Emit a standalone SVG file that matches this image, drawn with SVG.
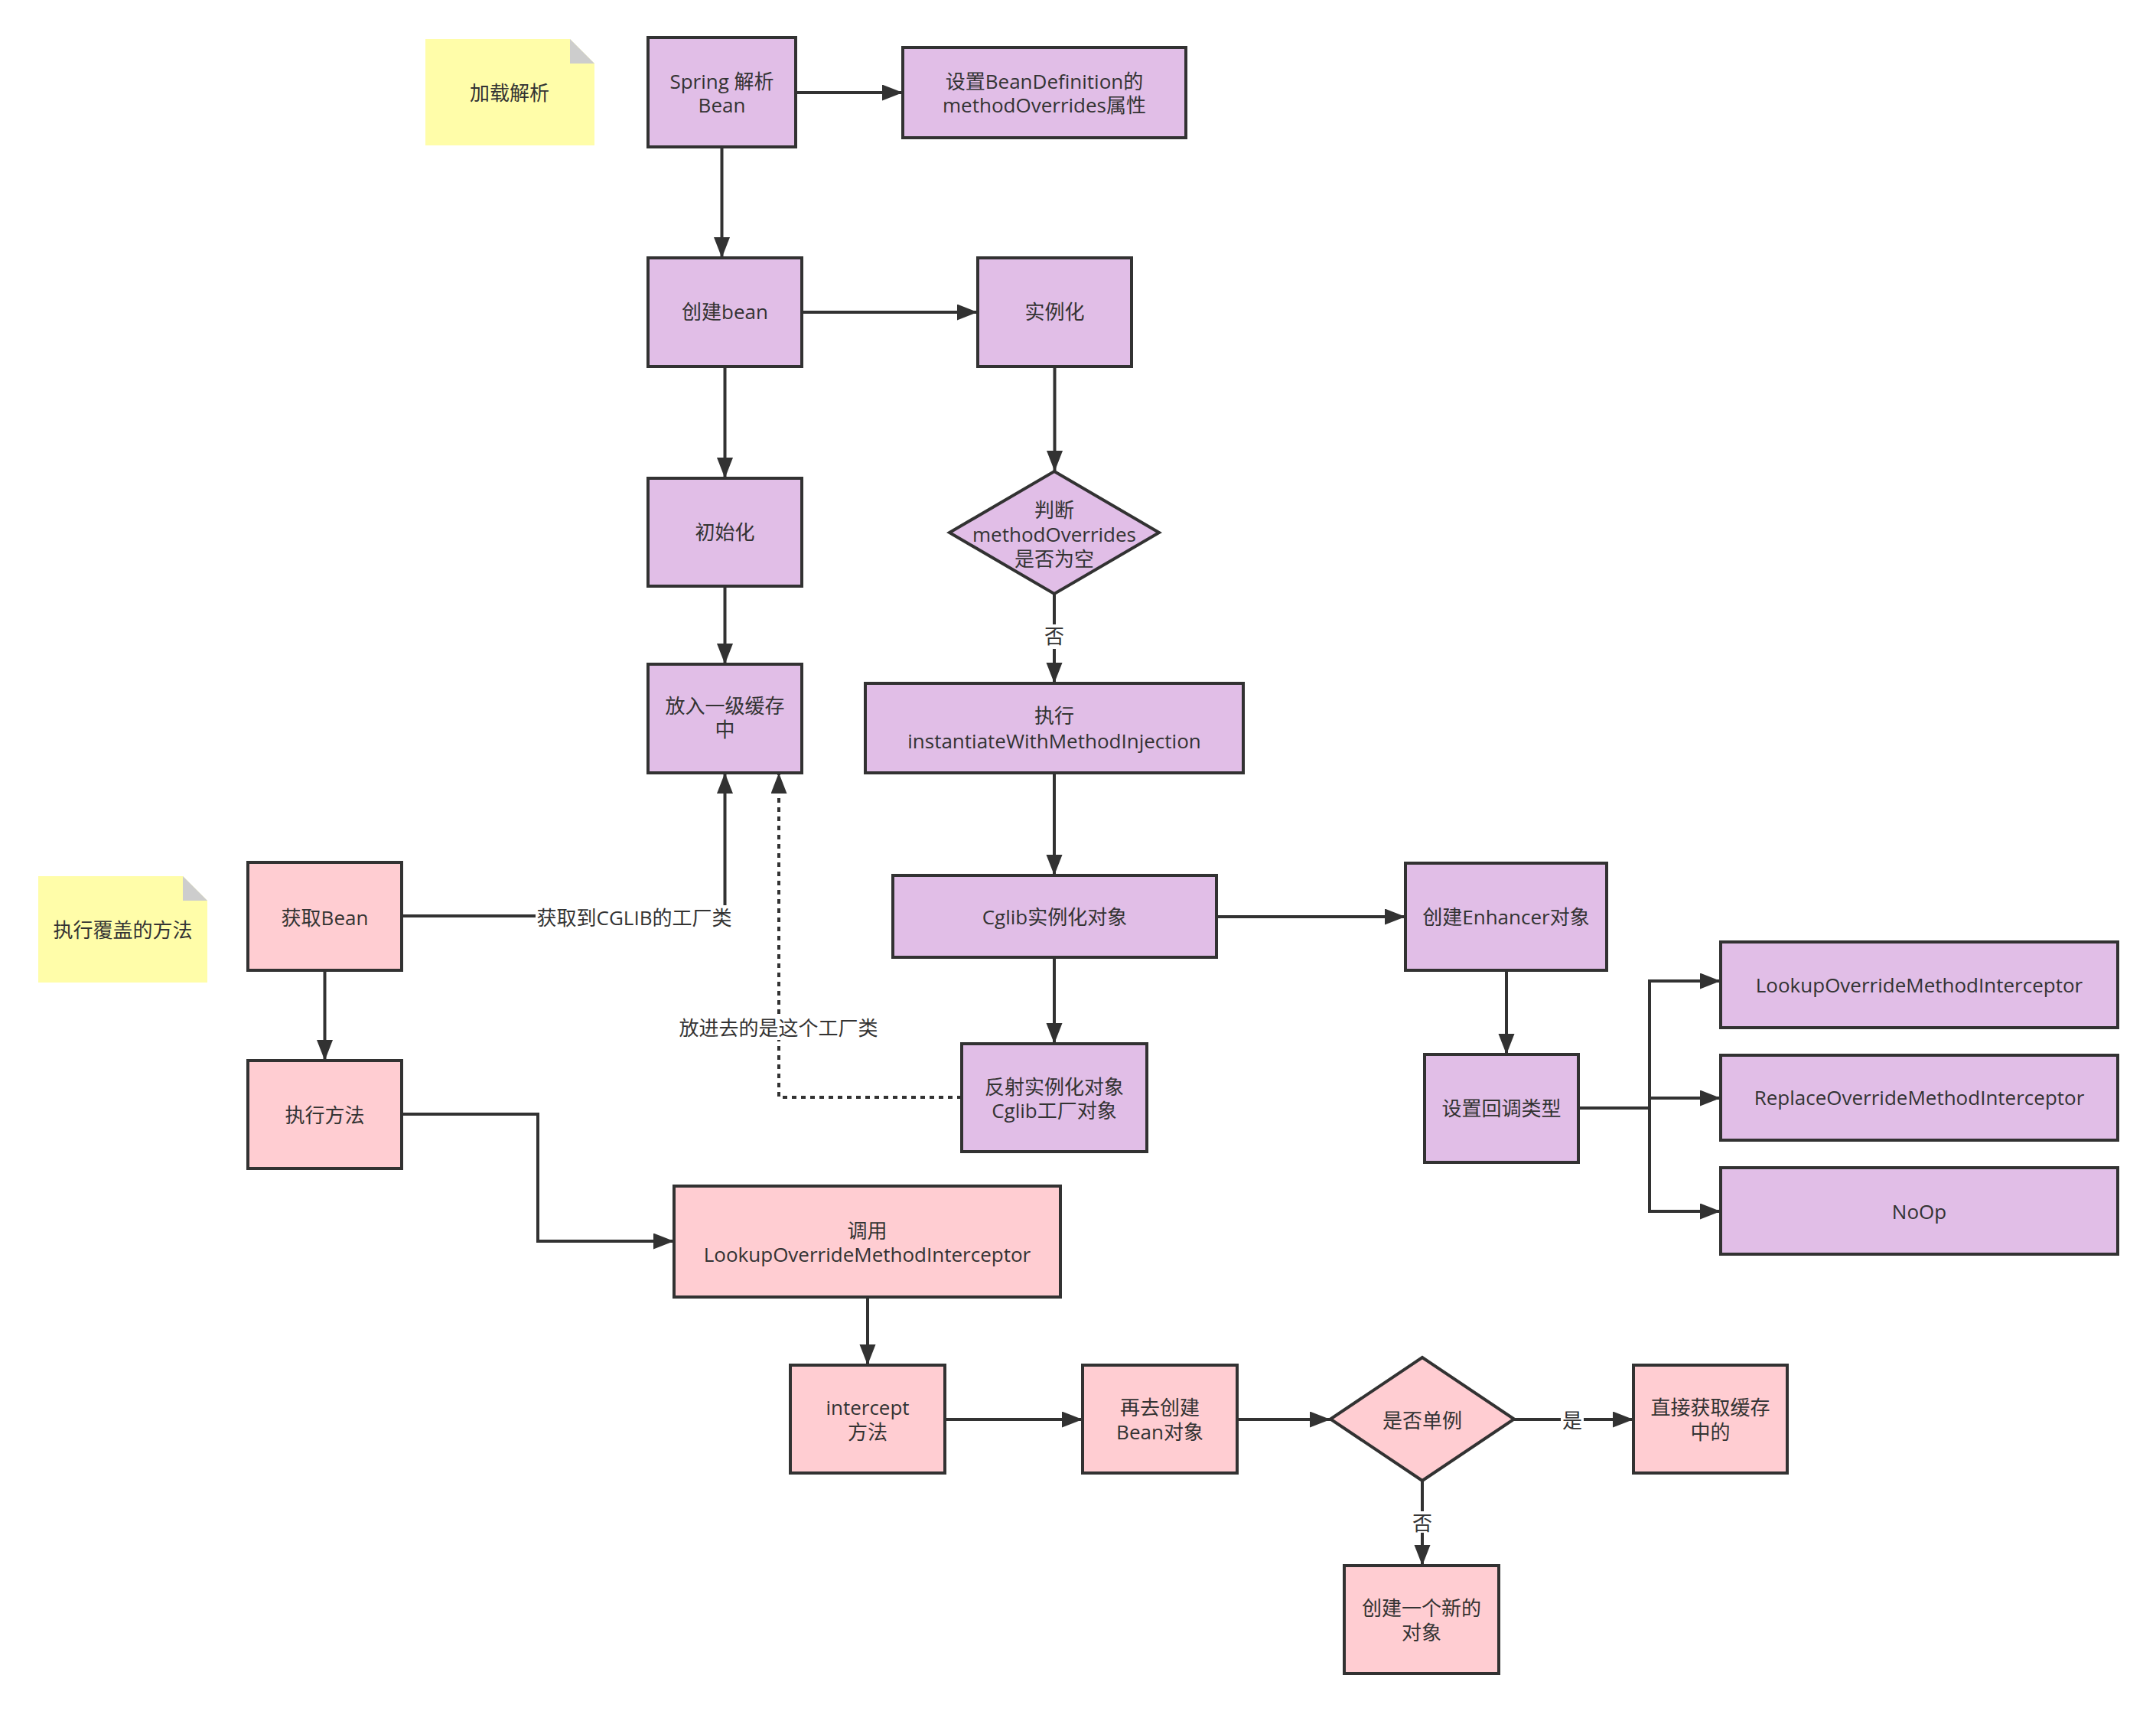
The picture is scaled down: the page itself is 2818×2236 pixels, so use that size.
<svg xmlns="http://www.w3.org/2000/svg" width="2818" height="2236" viewBox="0 0 2818 2236">
<style>
.p{fill:#E1BEE7;stroke:#323232;stroke-width:4}
.k{fill:#FFCDD2;stroke:#323232;stroke-width:4}
.note{fill:#FFFDA9}
.fold{fill:#CDCDCD}
.t{font-family:"Open Sans","Noto Sans CJK SC",sans-serif;font-size:26px;fill:#333333;text-anchor:middle}
.ln{fill:none;stroke:#323232;stroke-width:4;marker-end:url(#ah)}
.dot{stroke-dasharray:6 6}
.nm{marker-end:none}
.bg{fill:#FFFFFF}
</style>
<defs>
<marker id="ah" markerUnits="userSpaceOnUse" markerWidth="28" markerHeight="22" viewBox="0 0 28 22" refX="27" refY="10.5" orient="auto">
<path d="M0,0 L27,10.5 L0,21 Z" fill="#323232"/>
</marker>
</defs>
<rect width="2818" height="2236" fill="#FFFFFF"/>

<g id="connectors">
<path class="ln" d="M1040,121 L1180,121"/>
<path class="ln" d="M943.5,192 L943.5,337"/>
<path class="ln" d="M1048,408 L1278,408"/>
<path class="ln" d="M947.5,479 L947.5,625"/>
<path class="ln" d="M1378.5,479 L1378.5,616"/>
<path class="ln" d="M947.5,766 L947.5,868"/>
<path class="ln" d="M1378,776 L1378,893"/>
<path class="ln" d="M1378,1010 L1378,1144"/>
<path class="ln" d="M1590,1198 L1837,1198"/>
<path class="ln" d="M1378,1251 L1378,1364"/>
<path class="ln" d="M1969,1268 L1969,1378"/>
<path class="ln nm" d="M2063,1448 L2156,1448"/>
<path class="ln" d="M2156,1448 L2156,1282 L2249,1282"/>
<path class="ln" d="M2156,1435 L2249,1435"/>
<path class="ln" d="M2156,1448 L2156,1583 L2249,1583"/>
<path class="ln" d="M525,1197 L947.5,1197 L947.5,1010"/>
<path class="ln dot" d="M1257,1434 L1018,1434 L1018,1010"/>
<path class="ln" d="M424.5,1268 L424.5,1386"/>
<path class="ln" d="M525,1456 L703,1456 L703,1622 L881,1622"/>
<path class="ln" d="M1134,1695 L1134,1784"/>
<path class="ln" d="M1235,1855 L1415,1855"/>
<path class="ln" d="M1617,1855 L1739,1855"/>
<path class="ln" d="M1979,1855 L2135,1855"/>
<path class="ln" d="M1859,1935 L1859,2046"/>
<g id="label-no-1"><rect class="bg" x="1364" y="816" width="28" height="32"/><text class="t" x="1378" y="841">否</text></g>
<g id="label-cglib"><rect class="bg" x="700" y="1183" width="258" height="32"/><text class="t" x="829" y="1209">获取到CGLIB的工厂类</text></g>
<g id="label-factory"><rect class="bg" x="886" y="1326" width="264" height="33"/><text class="t" x="1017.5" y="1353">放进去的是这个工厂类</text></g>
<g id="label-yes"><rect class="bg" x="2040" y="1841" width="30" height="32"/><text class="t" x="2055" y="1866">是</text></g>
<g id="label-no-2"><rect class="bg" x="1845" y="1975" width="28" height="28"/><text class="t" x="1859" y="2000">否</text></g>
</g>

<g id="note-load">
<path class="note" d="M556,51 L745,51 L777,83 L777,190 L556,190 Z"/>
<path class="fold" d="M745,51 L745,83 L777,83 Z"/>
<text class="t" x="666" y="131">加载解析</text>
</g>
<g id="note-exec">
<path class="note" d="M50,1145 L239,1145 L271,1177 L271,1284 L50,1284 Z"/>
<path class="fold" d="M239,1145 L239,1177 L271,1177 Z"/>
<text class="t" x="160.5" y="1225">执行覆盖的方法</text>
</g>

<g id="n-spring">
<rect class="p" x="847" y="49" width="193" height="143"/>
<text class="t" x="943.5" y="116">Spring 解析</text>
<text class="t" x="943.5" y="147">Bean</text>
</g>
<g id="n-setdef">
<rect class="p" x="1180" y="62" width="370" height="118"/>
<text class="t" x="1365" y="116">设置BeanDefinition的</text>
<text class="t" x="1365" y="147">methodOverrides属性</text>
</g>
<g id="n-create">
<rect class="p" x="847" y="337" width="201" height="142"/>
<text class="t" x="947.5" y="417">创建bean</text>
</g>
<g id="n-inst">
<rect class="p" x="1278" y="337" width="201" height="142"/>
<text class="t" x="1378.5" y="417">实例化</text>
</g>
<g id="n-init">
<rect class="p" x="847" y="625" width="201" height="141"/>
<text class="t" x="947.5" y="705">初始化</text>
</g>
<g id="n-judge">
<path class="p" d="M1378,616 L1515,696 L1378,776 L1241,696 Z"/>
<text class="t" x="1378" y="676">判断</text>
<text class="t" x="1378" y="708">methodOverrides</text>
<text class="t" x="1378" y="740">是否为空</text>
</g>
<g id="n-cache">
<rect class="p" x="847" y="868" width="201" height="142"/>
<text class="t" x="947.5" y="932">放入一级缓存</text>
<text class="t" x="947.5" y="963">中</text>
</g>
<g id="n-exec-inject">
<rect class="p" x="1131" y="893" width="494" height="117"/>
<text class="t" x="1378" y="945">执行</text>
<text class="t" x="1378" y="978">instantiateWithMethodInjection</text>
</g>
<g id="n-cglib">
<rect class="p" x="1167" y="1144" width="423" height="107"/>
<text class="t" x="1378.5" y="1208">Cglib实例化对象</text>
</g>
<g id="n-enhancer">
<rect class="p" x="1837" y="1128" width="263" height="140"/>
<text class="t" x="1968.5" y="1208">创建Enhancer对象</text>
</g>
<g id="n-reflect">
<rect class="p" x="1257" y="1364" width="242" height="141"/>
<text class="t" x="1378" y="1430">反射实例化对象</text>
<text class="t" x="1378" y="1461">Cglib工厂对象</text>
</g>
<g id="n-callback">
<rect class="p" x="1862" y="1378" width="201" height="141"/>
<text class="t" x="1962.5" y="1458">设置回调类型</text>
</g>
<g id="n-lookup">
<rect class="p" x="2249" y="1231" width="519" height="112"/>
<text class="t" x="2508.5" y="1297">LookupOverrideMethodInterceptor</text>
</g>
<g id="n-replace">
<rect class="p" x="2249" y="1379" width="519" height="111"/>
<text class="t" x="2508.5" y="1444">ReplaceOverrideMethodInterceptor</text>
</g>
<g id="n-noop">
<rect class="p" x="2249" y="1526" width="519" height="113"/>
<text class="t" x="2508.5" y="1593">NoOp</text>
</g>
<g id="n-getbean">
<rect class="k" x="324" y="1127" width="201" height="141"/>
<text class="t" x="424.5" y="1209">获取Bean</text>
</g>
<g id="n-execmethod">
<rect class="k" x="324" y="1386" width="201" height="141"/>
<text class="t" x="424.5" y="1467">执行方法</text>
</g>
<g id="n-calllookup">
<rect class="k" x="881" y="1550" width="505" height="145"/>
<text class="t" x="1133.5" y="1618">调用</text>
<text class="t" x="1133.5" y="1649">LookupOverrideMethodInterceptor</text>
</g>
<g id="n-intercept">
<rect class="k" x="1033" y="1784" width="202" height="141"/>
<text class="t" x="1134" y="1849">intercept</text>
<text class="t" x="1134" y="1881">方法</text>
</g>
<g id="n-recreate">
<rect class="k" x="1415" y="1784" width="202" height="141"/>
<text class="t" x="1516" y="1849">再去创建</text>
<text class="t" x="1516" y="1881">Bean对象</text>
</g>
<g id="n-singleton">
<path class="k" d="M1859,1774 L1979,1854.5 L1859,1935 L1739,1854.5 Z"/>
<text class="t" x="1859" y="1866">是否单例</text>
</g>
<g id="n-fromcache">
<rect class="k" x="2135" y="1784" width="201" height="141"/>
<text class="t" x="2235.5" y="1849">直接获取缓存</text>
<text class="t" x="2235.5" y="1881">中的</text>
</g>
<g id="n-newobj">
<rect class="k" x="1757" y="2046" width="202" height="141"/>
<text class="t" x="1858" y="2111">创建一个新的</text>
<text class="t" x="1858" y="2143">对象</text>
</g>
</svg>
